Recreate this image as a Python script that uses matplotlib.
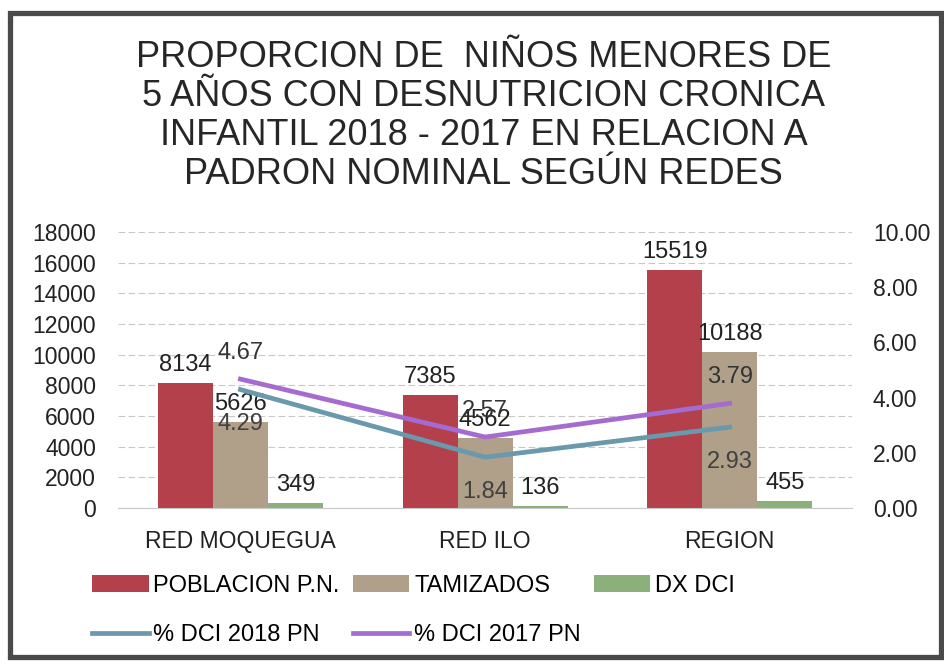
import matplotlib
matplotlib.use("Agg")
import matplotlib.pyplot as plt
import numpy as np
from matplotlib.patches import Rectangle

plt.rcParams["font.family"] = ["Liberation Sans", "DejaVu Sans"]

# data
redes = ["RED MOQUEGUA", "RED ILO", "REGION"]
poblacion = [8134, 7385, 15519]
tamizados = [5626, 4562, 10188]
dx_dci = [349, 136, 455]
dci_2018 = [4.29, 1.84, 2.93]
dci_2017 = [4.67, 2.57, 3.79]

c_red = "#B3404A"
c_tan = "#B0A08A"
c_green = "#8CB07A"
c_blue = "#6A98AC"
c_purple = "#A56BD0"

fig = plt.figure(figsize=(9.45, 6.69), dpi=100)
ax = fig.add_axes([0.125, 0.2407, 0.7766, 0.4125])
ax2 = ax.twinx()

x = np.arange(len(redes))
w = 0.225

b1 = ax.bar(x - w, poblacion, w, color=c_red, zorder=2)
b2 = ax.bar(x, tamizados, w, color=c_tan, zorder=2)
b3 = ax.bar(x + w, dx_dci, w, color=c_green, zorder=2)

for bars, vals in [(b1, poblacion), (b2, tamizados), (b3, dx_dci)]:
    for rect, v in zip(bars, vals):
        ax.annotate(str(v), (rect.get_x() + rect.get_width() / 2, v),
                    xytext=(0, 5), textcoords="offset points",
                    ha="center", va="bottom", fontsize=17, color="#222222")

l1, = ax2.plot(x, dci_2018, color=c_blue, lw=3.4, zorder=3)
l2, = ax2.plot(x, dci_2017, color=c_purple, lw=3.4, zorder=3)

for xi, v in zip(x, dci_2018):
    ax2.annotate(f"{v:.2f}", (xi, v), xytext=(0, -25), textcoords="offset points",
                 ha="center", va="center", fontsize=17, color="#404040")
for xi, v in zip(x, dci_2017):
    ax2.annotate(f"{v:.2f}", (xi, v), xytext=(0, 19), textcoords="offset points",
                 ha="center", va="center", fontsize=17, color="#333333")

ax.set_xlim(-0.5, 2.5)
ax.set_ylim(0, 18000)
ax.set_yticks(range(0, 18001, 2000))
ax2.set_ylim(0, 10)
ax2.set_yticks(range(0, 11, 2))
ax2.set_yticklabels([f"{t:.2f}" for t in range(0, 11, 2)])

ax.set_xticks(x)
ax.set_xticklabels(redes)
ax.tick_params(axis="x", length=0, pad=16, labelsize=16.5, colors="#222222")
ax.tick_params(axis="y", length=0, pad=16, labelsize=16.5, colors="#222222")
ax2.tick_params(axis="y", length=0, pad=15, labelsize=16.5, colors="#222222")

ax.grid(axis="y", color="#c8c8c8", lw=0.8, ls=(0, (6, 3)), zorder=0)
ax.set_axisbelow(True)
for a in (ax, ax2):
    for s in ("top", "left", "right"):
        a.spines[s].set_visible(False)
    a.spines["bottom"].set_color("#c8c8c8")
ax2.spines["bottom"].set_visible(False)

fig.text(0.512, 1 - 40 / 669,
         "PROPORCION DE  NIÑOS MENORES DE\n5 AÑOS CON DESNUTRICION CRONICA\n"
         "INFANTIL 2018 - 2017 EN RELACION A\nPADRON NOMINAL SEGÚN REDES",
         ha="center", va="top", fontsize=26, linespacing=1.15, color="#262626")

handles = [b1, l1, b2, l2, b3]
labels = ["POBLACION P.N.", "% DCI 2018 PN", "TAMIZADOS", "% DCI 2017 PN", "DX DCI"]
fig.legend(handles, labels, ncol=3, loc="upper left",
           bbox_to_anchor=(92 / 945, 1 - 575 / 669), frameon=False,
           fontsize=17, handlelength=2.4, handletextpad=0.2,
           columnspacing=0.55, labelspacing=1.15, borderaxespad=0, borderpad=0)

# scanned page frame
fig.patches.append(Rectangle((10 / 945, 1 - 657 / 669), 931 / 945, 644 / 669,
                             transform=fig.transFigure, fill=False,
                             edgecolor="#4a4a4a", lw=3.8))

fig.savefig("out.png", dpi=100)
